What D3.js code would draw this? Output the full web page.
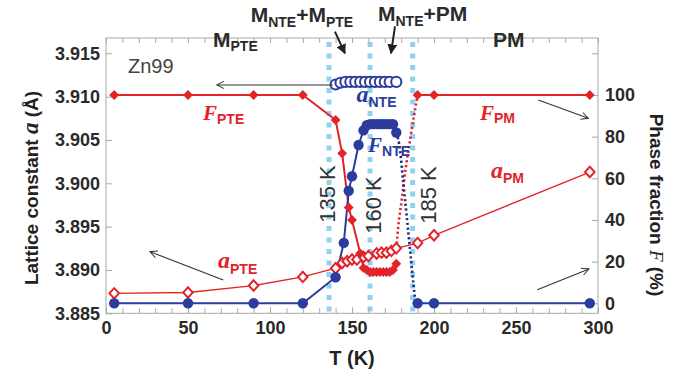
<!DOCTYPE html>
<html><head><meta charset="utf-8">
<script src="https://cdn.jsdelivr.net/npm/d3@7"></script>
<style>
html,body{margin:0;padding:0;background:#fff;}
svg{display:block;}
text{font-family:"Liberation Sans",Arial,sans-serif;}
</style></head><body>
<svg id="chart" width="689" height="379"></svg>
<script>
// ---------------- data ----------------
// F_PTE : phase fraction of M_PTE (%)
const tempFPTE = [5,50,90,120,140,144,148,150,155,157,159,161,163,165,167,169,171,173,175,177];
const fracPTE  = [100,100,100,100,88,72,46,40,24,17,16,15,15,15,15,15,15,15,16,19];
// F_NTE : phase fraction of M_NTE (%) , low-T branch and high-T branch
const tempFNTE = [5,50,90,120,140,145,148,150,154,157,159,161,163,165,167,169,171,173,175,177];
const fracNTE  = [0,0,0,0,12.5,29,54,61,76,83,85.5,86,86,86,86,86,86,86,86,82];
const tempFNTEhigh = [190,200,295];
const fracNTEhigh  = [0,0,0];
// F_PM : phase fraction of PM (%)
const tempFPM = [190,200,295];
const fracPM  = [100,100,100];
// a_PTE and a_PM lattice constants (Å)
const tempAPTE = [5,50,90,120,140,144,147,150,153,157,160,165,168,171,174,177];
const latAPTE  = [3.8873,3.8874,3.8882,3.8892,3.8902,3.8908,3.8910,3.8912,3.8912,3.8915,3.8916,3.8919,3.8920,3.8920,3.8922,3.8925];
const tempAPM = [190,200,295];
const latAPM  = [3.8931,3.8940,3.9013];
// a_NTE lattice constant (Å)
const tempANTE = [140,143,146,149,152,155,158,161,164,167,170,173,177];
const latANTE  = [3.9114,3.9116,3.9117,3.9117,3.9117,3.9117,3.9117,3.9117,3.9117,3.9117,3.9117,3.9117,3.9117];
// dotted guide curves (T, F %)
const guideRedT  = [177,178.2,180.3,182.9,185.4,188.4,190];
const guideRedF  = [26.4,36.8,49.6,65.6,78.4,92.8,100];
const guideBlueT = [177,179.3,181.3,183.4,185.4,187.4,188.6,190];
const guideBlueF = [82,73.6,57.6,41.6,25.6,9.6,2,0];
// transition temperatures (K)
const transT = [136,161,187];
const transLabels = ["135 K","160 K","185 K"];
// ticks
const xTicks = [0,50,100,150,200,250,300];
const xMinor = d3.range(0,301,10);
const yLeftTicks = [3.885,3.890,3.895,3.900,3.905,3.910,3.915];
const yRightTicks = [0,20,40,60,80,100,120];

// ---------------- layout ----------------
const svg = d3.select("#chart");
const L = 106, R = 598, T = 38, B = 313.3;
const xS = d3.scaleLinear().domain([0,300]).range([L,R]);
const yA = d3.scaleLinear().domain([3.885,3.915]).range([B,53.3]);
const yF = d3.scaleLinear().domain([0,100]).range([303.3,95]);

const RED = "#e3232a", BLUE = "#2b3b9e", NAVY = "#1d2878", SKY = "#8ed2f0", GREY = "#a8a8a8", TXT = "#2a2a2a";

const defs = svg.append("defs");
defs.append("marker").attr("id","openHead").attr("markerUnits","userSpaceOnUse")
  .attr("viewBox","0 0 10 10").attr("refX",9).attr("refY",5)
  .attr("markerWidth",9).attr("markerHeight",9).attr("orient","auto-start-reverse")
  .append("path").attr("d","M1,1 L9,5 L1,9").attr("fill","none").attr("stroke","#333").attr("stroke-width",1.1);
defs.append("marker").attr("id","solidHead").attr("markerUnits","userSpaceOnUse")
  .attr("viewBox","0 0 10 10").attr("refX",9).attr("refY",5)
  .attr("markerWidth",10).attr("markerHeight",10).attr("orient","auto")
  .append("path").attr("d","M0,0 L10,5 L0,10 Z").attr("fill","#222");

// vertical transition lines
svg.append("g").selectAll("line").data(transT).join("line")
  .attr("x1",d=>xS(d)).attr("x2",d=>xS(d)).attr("y1",T+4).attr("y2",B)
  .attr("stroke",SKY).attr("stroke-width",5).attr("stroke-dasharray","5,6.5");

// frame
svg.append("rect").attr("x",L).attr("y",T).attr("width",R-L).attr("height",B-T)
  .attr("fill","none").attr("stroke",GREY).attr("stroke-width",1);

// axes
function styleAxis(g){
  g.select(".domain").remove();
  g.selectAll(".tick line").attr("stroke",GREY);
  g.selectAll(".tick text").attr("fill",TXT).attr("font-size",18).attr("font-weight","bold")
    .attr("font-family","'Liberation Sans',Arial,sans-serif");
}
svg.append("g").attr("transform",`translate(${L},0)`)
  .call(d3.axisLeft(yA).tickValues(yLeftTicks).tickSize(-6).tickPadding(6).tickFormat(d3.format(".3f")))
  .call(styleAxis);
svg.append("g").attr("transform",`translate(${R},0)`)
  .call(d3.axisRight(yF).tickValues(yRightTicks).tickSize(-6).tickPadding(7).tickFormat(d=>d>100?"":d))
  .call(styleAxis);
svg.append("g").attr("transform",`translate(0,${B})`)
  .call(d3.axisBottom(xS).tickValues(xMinor).tickSize(-5).tickFormat(""))
  .call(styleAxis);
svg.append("g").attr("transform",`translate(0,${B})`)
  .call(d3.axisBottom(xS).tickValues(xTicks).tickSize(-6).tickPadding(8))
  .call(styleAxis);
svg.append("g").attr("transform",`translate(0,${T})`)
  .call(d3.axisTop(xS).tickValues(xMinor).tickSize(-5).tickFormat(""))
  .call(styleAxis);

// lines
const lineF = (ts,fs,curve) => d3.line().x((d,i)=>xS(ts[i])).y((d,i)=>yF(fs[i])).curve(curve||d3.curveLinear)(ts);
const lineA = (ts,as) => d3.line().x((d,i)=>xS(ts[i])).y((d,i)=>yA(as[i]))(ts);

// dotted guides
svg.append("path").attr("d",lineF(guideRedT,guideRedF,d3.curveMonotoneX)).attr("fill","none")
  .attr("stroke",RED).attr("stroke-width",2.6).attr("stroke-dasharray","2.2,2.6");
svg.append("path").attr("d",lineF(guideBlueT,guideBlueF,d3.curveMonotoneX)).attr("fill","none")
  .attr("stroke",NAVY).attr("stroke-width",2.6).attr("stroke-dasharray","2.2,2.6");

// a line (PTE + PM)
svg.append("path").attr("d",lineA(tempAPTE.concat(tempAPM), latAPTE.concat(latAPM))).attr("fill","none")
  .attr("stroke",RED).attr("stroke-width",1.3);
// F lines
svg.append("path").attr("d",lineF(tempFPTE,fracPTE)).attr("fill","none").attr("stroke",RED).attr("stroke-width",2);
svg.append("path").attr("d",lineF(tempFPM,fracPM)).attr("fill","none").attr("stroke",RED).attr("stroke-width",2);
svg.append("path").attr("d",lineF(tempFNTE,fracNTE)).attr("fill","none").attr("stroke",BLUE).attr("stroke-width",2);
svg.append("path").attr("d",lineF(tempFNTEhigh,fracNTEhigh)).attr("fill","none").attr("stroke",BLUE).attr("stroke-width",2);

// markers
const diamond = d3.symbol().type(d3.symbolDiamond2).size(62);
const diamondOpen = d3.symbol().type(d3.symbolDiamond2).size(58);
// a_NTE open circles
svg.append("g").selectAll("circle").data(tempANTE).join("circle")
  .attr("cx",d=>xS(d)).attr("cy",(d,i)=>yA(latANTE[i])).attr("r",5.1)
  .attr("fill","#fff").attr("stroke",BLUE).attr("stroke-width",2);
// a_PTE / a_PM open diamonds
svg.append("g").selectAll("path").data(tempAPTE.map((t,i)=>[t,latAPTE[i]]).concat(tempAPM.map((t,i)=>[t,latAPM[i]]))).join("path")
  .attr("d",diamondOpen).attr("transform",d=>`translate(${xS(d[0])},${yA(d[1])}) scale(1,1.1)`)
  .attr("fill","#fff").attr("stroke",RED).attr("stroke-width",1.9);
// F_PTE and F_PM filled diamonds
svg.append("g").selectAll("path").data(tempFPTE.map((t,i)=>[t,fracPTE[i]]).concat(tempFPM.map((t,i)=>[t,fracPM[i]]))).join("path")
  .attr("d",diamond).attr("transform",d=>`translate(${xS(d[0])},${yF(d[1])})`)
  .attr("fill",RED);
// F_NTE filled circles
svg.append("g").selectAll("circle").data(tempFNTE.map((t,i)=>[t,fracNTE[i]]).concat(tempFNTEhigh.map((t,i)=>[t,fracNTEhigh[i]]))).join("circle")
  .attr("cx",d=>xS(d[0])).attr("cy",d=>yF(d[1])).attr("r",5.2).attr("fill",BLUE);

// thin annotation arrows (data units)
const arrowsA = [ // [T1,a1,T2,a2]
  [138.4,3.91135,67.5,3.91135],
  [71.5,3.88885,26.8,3.89211]
];
const arrowsF = [ // [T1,F1,T2,F2]
  [263.6,97.6,294.1,88.8],
  [263.0,6.5,294.5,16.5]
];
svg.append("g").selectAll("line").data(arrowsA).join("line")
  .attr("x1",d=>xS(d[0])).attr("y1",d=>yA(d[1])).attr("x2",d=>xS(d[2])).attr("y2",d=>yA(d[3]))
  .attr("stroke","#333").attr("stroke-width",1.1).attr("marker-end","url(#openHead)");
svg.append("g").selectAll("line").data(arrowsF).join("line")
  .attr("x1",d=>xS(d[0])).attr("y1",d=>yF(d[1])).attr("x2",d=>xS(d[2])).attr("y2",d=>yF(d[3]))
  .attr("stroke","#333").attr("stroke-width",1.1).attr("marker-end","url(#openHead)");
// bold top arrows
const arrowsTop = [[139.6,3.9175,145.7,3.9150],[176.2,3.9181,173.8,3.9150]];
svg.append("g").selectAll("line").data(arrowsTop).join("line")
  .attr("x1",d=>xS(d[0])).attr("y1",d=>yA(d[1])).attr("x2",d=>xS(d[2])).attr("y2",d=>yA(d[3]))
  .attr("stroke","#222").attr("stroke-width",2).attr("marker-end","url(#solidHead)");

// transition labels
svg.append("g").selectAll("text").data(transLabels).join("text")
  .attr("transform",(d,i)=>`translate(${[335,381,436][i]},${[194,205,195][i]}) rotate(-90)`)
  .attr("text-anchor","middle").attr("font-size",22).attr("fill","#333").text(d=>d);

// helper for label with subscript
const SERIF = "'Liberation Serif','DejaVu Serif',serif";
function subLabel(x,y,main,sub,color,opts){
  opts = opts||{};
  const t = svg.append("text").attr("x",x).attr("y",y).attr("fill",color).attr("font-weight","bold");
  t.append("tspan").text(main).attr("font-size",opts.size||21)
    .attr("font-family",opts.serif?SERIF:"'Liberation Sans',Arial,sans-serif")
    .attr("font-style",opts.serif?"italic":"normal");
  let dy = opts.dy||4.5;
  sub.forEach((s,i)=>{
    const isSub = i%2===0;
    t.append("tspan").text(s).attr("font-size",isSub?(opts.subSize||14):(opts.size||21))
      .attr("dy",isSub?dy:-dy);
  });
  return t;
}
subLabel(250.7,21.5,"M",["NTE","+M","PTE"],"#2a2a2a",{dy:5});
subLabel(378,21,"M",["NTE","+PM"],"#2a2a2a",{dy:5});
subLabel(213,46.5,"M",["PTE"],"#2a2a2a",{dy:4});
svg.append("text").attr("x",493).attr("y",46.5).attr("font-size",21).attr("font-weight","bold").attr("fill","#2a2a2a").text("PM");
svg.append("text").attr("x",128).attr("y",73).attr("font-size",20).attr("fill","#444").text("Zn99");

subLabel(203,120,"F",["PTE"],RED,{serif:true,size:21,dy:3.5});
subLabel(480,120,"F",["PM"],RED,{serif:true,size:21,dy:3});
subLabel(368,152,"F",["NTE"],BLUE,{serif:true,size:21,dy:4});
subLabel(356.5,102,"a",["NTE"],BLUE,{serif:true,size:24,dy:4.5});
subLabel(218,268,"a",["PTE"],RED,{serif:true,size:24,dy:5.5});
subLabel(491,178,"a",["PM"],RED,{serif:true,size:24,dy:4.5});

// axis titles
svg.append("text").attr("x",xS(150)).attr("y",365).attr("text-anchor","middle")
  .attr("font-size",20).attr("font-weight","bold").attr("fill","#222").text("T (K)");
const yt = svg.append("text").attr("transform","translate(38,188) rotate(-90)").attr("text-anchor","middle")
  .attr("font-size",19).attr("font-weight","bold").attr("fill","#222");
yt.append("tspan").text("Lattice constant  ");
yt.append("tspan").text("a").attr("font-family",SERIF).attr("font-style","italic").attr("font-size",23);
yt.append("tspan").text(" (Å)");
const rt = svg.append("text").attr("transform","translate(650,205) rotate(90)").attr("text-anchor","middle")
  .attr("font-size",19).attr("font-weight","bold").attr("fill","#222");
rt.append("tspan").text("Phase fraction  ");
rt.append("tspan").text("F").attr("font-family",SERIF).attr("font-style","italic").attr("font-weight","normal");
rt.append("tspan").text(" (%)");
</script>
</body></html>
